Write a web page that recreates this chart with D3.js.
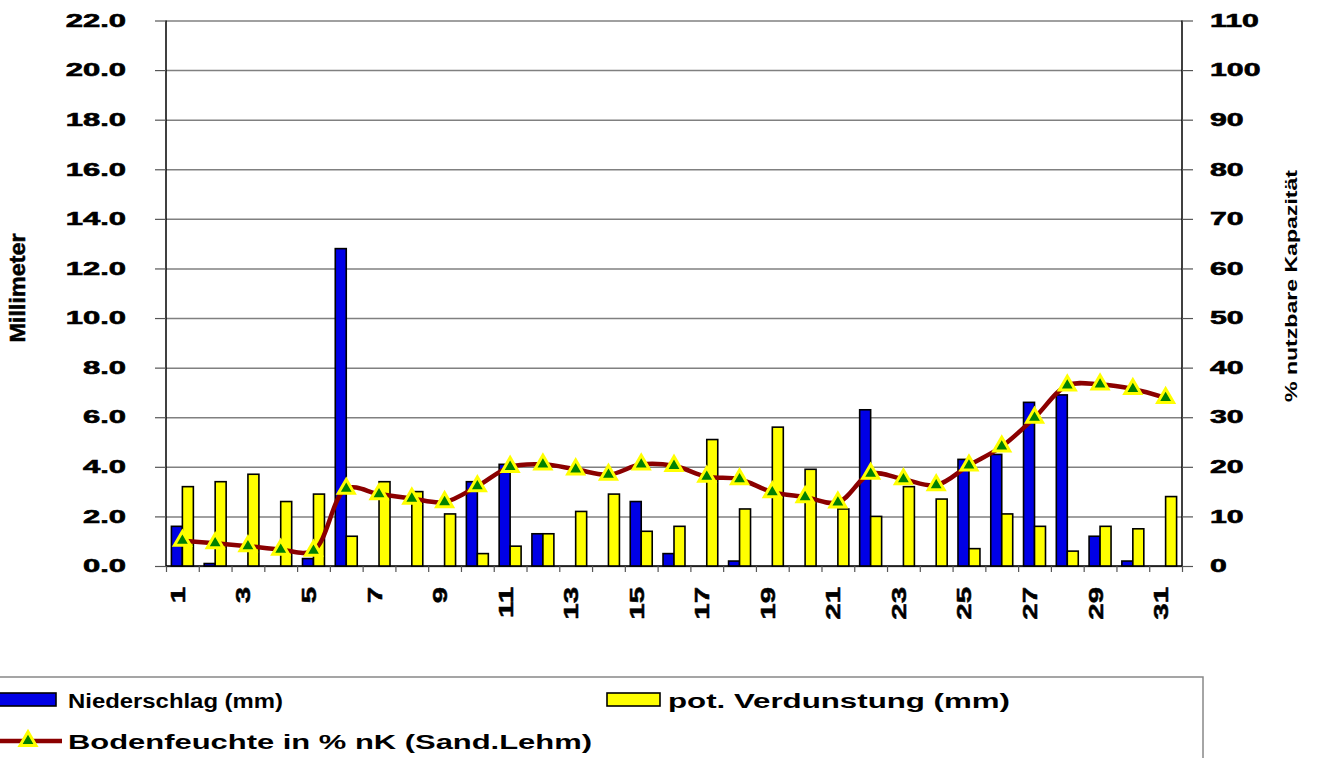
<!DOCTYPE html>
<html><head><meta charset="utf-8">
<script src="https://cdn.jsdelivr.net/npm/d3@7"></script>
<style>body{margin:0;background:#fff}text{font-family:"Liberation Sans",Arial,sans-serif;font-weight:bold;fill:#000}</style>
</head><body><svg id="c" width="1319" height="758"></svg>
<script>
const days = [1,2,3,4,5,6,7,8,9,10,11,12,13,14,15,16,17,18,19,20,21,22,23,24,25,26,27,28,29,30,31];
const niederschlag = [1.6,0.1,0,0,0.3,12.8,0,0,0,3.4,4.1,1.3,0,0,2.6,0.5,0,0.2,0,0,0,6.3,0,0,4.3,4.5,6.6,6.9,1.2,0.2,0];
const verdunstung = [3.2,3.4,3.7,2.6,2.9,1.2,3.4,3.0,2.1,0.5,0.8,1.3,2.2,2.9,1.4,1.6,5.1,2.3,5.6,3.9,2.3,2.0,3.2,2.7,0.7,2.1,1.6,0.6,1.6,1.5,2.8];
const bodenfeuchte = [5.1,4.6,4.0,3.3,3.1,15.6,14.5,13.6,12.9,16.1,20.0,20.5,19.5,18.4,20.5,20.2,18.0,17.5,14.9,13.9,12.8,18.6,17.5,16.3,20.3,24.1,29.9,36.4,36.6,35.7,33.9];
const leftTicks = [0,2,4,6,8,10,12,14,16,18,20,22];
const rightTicks = [0,10,20,30,40,50,60,70,80,90,100,110];
const xLabelDays = [1,3,5,7,9,11,13,15,17,19,21,23,25,27,29,31];
const seriesNames = ["Niederschlag (mm)","pot. Verdunstung (mm)","Bodenfeuchte in % nK (Sand.Lehm)"];
const axisTitles = ["Millimeter","% nutzbare Kapazität"];

const C = {blue:"#0000e6", yellow:"#ffff00", line:"#8b0000", tri:"#008000", triStroke:"#ffff00", grid:"#808080"};
const svg = d3.select("#c");
svg.append("rect").attr("width",1319).attr("height",758).attr("fill","#fff");

const m = {left:166, right:1182, top:20.5, bottom:566};
const x = d3.scaleBand().domain(days).range([m.left,m.right]).paddingInner(0.33).paddingOuter(0.165);
const xs = d3.scaleBand().domain(["n","v"]).range([0,x.bandwidth()]);
const xb = d3.scaleLinear().domain([0,days.length]).range([m.left,m.right]);
const yL = d3.scaleLinear().domain([0,22]).range([m.bottom,m.top]);
const yR = d3.scaleLinear().domain([0,110]).range([m.bottom,m.top]);

function stretch(sel,f){ sel.each(function(){ const l=this.getComputedTextLength(); this.setAttribute("textLength", l*f); this.setAttribute("lengthAdjust","spacingAndGlyphs"); }); }

// gridlines
const grid = svg.append("g").attr("transform",`translate(${m.left},0)`)
  .call(d3.axisLeft(yL).tickValues(leftTicks).tickSize(-(m.right-m.left)).tickFormat(""));
grid.select(".domain").remove();
grid.selectAll("line").attr("stroke",C.grid).attr("stroke-width",1.5);

// left axis
const gl = svg.append("g").attr("transform",`translate(${m.left},0)`)
  .call(d3.axisLeft(yL).tickValues(leftTicks).tickSize(11).tickPadding(29).tickFormat(d3.format(".1f")));
gl.select(".domain").attr("stroke","#000").attr("stroke-width",1.5).attr("d",`M0,${m.bottom}V${m.top}`);
gl.selectAll("line").attr("stroke","#555").attr("stroke-width",1.2);
gl.selectAll("text").attr("font-size",18).attr("fill","#000").attr("stroke","#000").attr("stroke-width",0.6);
stretch(gl.selectAll("text"),1.72);

// right axis
const gr = svg.append("g").attr("transform",`translate(${m.right},0)`)
  .call(d3.axisRight(yR).tickValues(rightTicks).tickSize(11).tickPadding(17));
gr.select(".domain").attr("stroke","#000").attr("stroke-width",1.5).attr("d",`M0,${m.bottom}V${m.top}`);
gr.selectAll("line").attr("stroke","#555").attr("stroke-width",1.2);
gr.selectAll("text").attr("font-size",18).attr("fill","#000").attr("stroke","#000").attr("stroke-width",0.6);
stretch(gr.selectAll("text"),1.68);

// x axis line and ticks at band boundaries
const gxb = svg.append("g").attr("transform",`translate(0,${m.bottom})`)
  .call(d3.axisBottom(xb).tickValues(d3.range(0,days.length+1)).tickSize(6).tickFormat(""));
gxb.select(".domain").attr("stroke","#000").attr("stroke-width",1.5).attr("d",`M${m.left},0H${m.right}`);
gxb.selectAll("line").attr("stroke","#555").attr("stroke-width",1.2);

// x labels
const gx = svg.append("g").attr("transform",`translate(0,${m.bottom})`)
  .call(d3.axisBottom(x).tickValues(xLabelDays).tickSize(0));
gx.select(".domain").remove();
gx.selectAll("text").attr("font-size",21).attr("fill","#000").attr("stroke","#000").attr("stroke-width",0.5)
  .attr("transform","rotate(-90)").attr("text-anchor","end")
  .attr("x",-21).attr("y",2.5).attr("dy",0);
stretch(gx.selectAll("text"),1.4);

// bars
const bars = svg.append("g");
bars.selectAll(".n").data(days).join("rect")
  .attr("x",d=>x(d)+xs("n")).attr("width",xs.bandwidth())
  .attr("y",(d,i)=>yL(niederschlag[i])).attr("height",(d,i)=>yL(0)-yL(niederschlag[i]))
  .attr("fill",C.blue).attr("stroke","#000").attr("stroke-width",1.6);
bars.selectAll(".v").data(days).join("rect")
  .attr("x",d=>x(d)+xs("v")).attr("width",xs.bandwidth())
  .attr("y",(d,i)=>yL(verdunstung[i])).attr("height",(d,i)=>yL(0)-yL(verdunstung[i]))
  .attr("fill",C.yellow).attr("stroke","#000").attr("stroke-width",1.6);

// line
const cx = d=>x(d)+x.bandwidth()/2;
const line = d3.line().x((d,i)=>cx(days[i])).y(d=>yR(d)).curve(d3.curveCatmullRom.alpha(0.5));
svg.append("path").datum(bodenfeuchte).attr("d",line).attr("fill","none")
  .attr("stroke",C.line).attr("stroke-width",4.5);
const tri = d3.symbol().type(d3.symbolTriangle).size(110);
svg.append("g").selectAll("path").data(bodenfeuchte).join("path")
  .attr("d",tri).attr("transform",(d,i)=>`translate(${cx(days[i])},${yR(d)})`)
  .attr("fill",C.tri).attr("stroke",C.triStroke).attr("stroke-width",3);

// axis titles
svg.append("text").attr("transform","translate(25,288) rotate(-90)").attr("text-anchor","middle")
  .attr("font-size",22).attr("stroke","#000").attr("stroke-width",0.5)
  .attr("textLength",109).attr("lengthAdjust","spacingAndGlyphs").text(axisTitles[0]);
svg.append("text").attr("transform","translate(1297,286) rotate(-90)").attr("text-anchor","middle")
  .attr("font-size",16).attr("textLength",232).attr("lengthAdjust","spacingAndGlyphs").text(axisTitles[1]);

// legend
const lg = svg.append("g");
lg.append("rect").attr("x",-3).attr("y",677).attr("width",1206).attr("height",100)
  .attr("fill","none").attr("stroke","#888").attr("stroke-width",1.5);
lg.append("rect").attr("x",-3).attr("y",693).attr("width",59).attr("height",13)
  .attr("fill",C.blue).attr("stroke","#000").attr("stroke-width",1.6);
lg.append("text").attr("x",68).attr("y",708).attr("font-size",20)
  .attr("textLength",215).attr("lengthAdjust","spacingAndGlyphs").text(seriesNames[0]);
lg.append("rect").attr("x",607).attr("y",693).attr("width",53).attr("height",13)
  .attr("fill",C.yellow).attr("stroke","#000").attr("stroke-width",1.6);
lg.append("text").attr("x",668).attr("y",708).attr("font-size",20)
  .attr("textLength",342).attr("lengthAdjust","spacingAndGlyphs").text(seriesNames[1]);
lg.append("line").attr("x1",-3).attr("x2",62).attr("y1",741).attr("y2",741)
  .attr("stroke",C.line).attr("stroke-width",4.5);
lg.append("path").attr("d",tri).attr("transform","translate(28,741)")
  .attr("fill",C.tri).attr("stroke",C.triStroke).attr("stroke-width",3);
lg.append("text").attr("x",68).attr("y",749).attr("font-size",20)
  .attr("textLength",524).attr("lengthAdjust","spacingAndGlyphs").text(seriesNames[2]);
</script></body></html>
